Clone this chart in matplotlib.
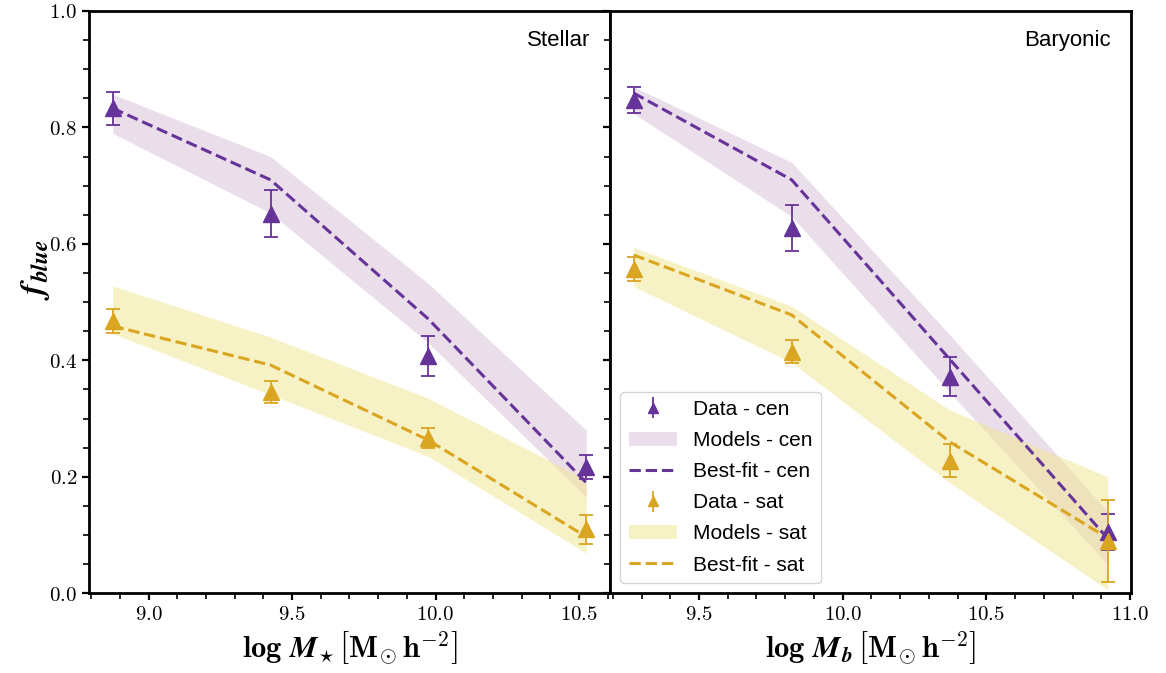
import numpy as np
import matplotlib
matplotlib.use("Agg")
import matplotlib.pyplot as plt
from matplotlib.ticker import MultipleLocator, FuncFormatter
from matplotlib.lines import Line2D
from matplotlib.patches import Patch

plt.rcParams['mathtext.fontset'] = 'cm'
plt.rcParams['font.family'] = ['Liberation Sans', 'DejaVu Sans']

# bin centres
x_stellar = [8.875, 9.425, 9.975, 10.525]
x_baryonic = [9.2725, 9.8225, 10.3725, 10.9225]

# stellar mass panel
st_data_cen = [0.833, 0.652, 0.408, 0.217]
st_err_cen = [0.028, 0.040, 0.034, 0.021]
st_data_sat = [0.468, 0.346, 0.267, 0.110]
st_err_sat = [0.021, 0.019, 0.017, 0.025]
st_best_cen = [0.833, 0.710, 0.471, 0.190]
st_best_sat = [0.459, 0.392, 0.263, 0.097]
st_mod_cen_lo = [0.790, 0.653, 0.430, 0.165]
st_mod_cen_hi = [0.857, 0.750, 0.532, 0.280]
st_mod_sat_lo = [0.446, 0.341, 0.235, 0.069]
st_mod_sat_hi = [0.528, 0.440, 0.335, 0.195]

# baryonic mass panel
bar_data_cen = [0.847, 0.627, 0.372, 0.106]
bar_err_cen = [0.023, 0.040, 0.033, 0.031]
bar_data_sat = [0.557, 0.415, 0.228, 0.090]
bar_err_sat = [0.021, 0.020, 0.029, 0.071]
bar_best_cen = [0.859, 0.710, 0.402, 0.094]
bar_best_sat = [0.581, 0.478, 0.260, 0.095]
bar_mod_cen_lo = [0.824, 0.647, 0.345, 0.050]
bar_mod_cen_hi = [0.870, 0.740, 0.444, 0.140]
bar_mod_sat_lo = [0.527, 0.396, 0.190, 0.006]
bar_mod_sat_hi = [0.594, 0.493, 0.315, 0.200]

c_cen = '#663399'
c_sat = 'goldenrod'
band_cen = 'thistle'
band_sat = 'khaki'

fig = plt.figure(figsize=(11.66, 6.73), dpi=100)
ax1 = fig.add_axes([0.0763, 0.1184, 0.4468, 0.8653])
ax2 = fig.add_axes([0.5231, 0.1184, 0.4468, 0.8653], sharey=ax1)

def draw_panel(ax, x, dc, ec, ds, es, bc, bs, clo, chi, slo, shi):
    ax.fill_between(x, clo, chi, color=band_cen, alpha=0.5, lw=0, zorder=1)
    ax.fill_between(x, slo, shi, color=band_sat, alpha=0.5, lw=0, zorder=1)
    ax.plot(x, bc, ls='--', color=c_cen, lw=2.2, zorder=3)
    ax.plot(x, bs, ls='--', color=c_sat, lw=2.2, zorder=3)
    ax.errorbar(x, dc, yerr=ec, fmt='^', color=c_cen, ms=12, capsize=5,
                elinewidth=1.3, capthick=1.3, zorder=4)
    ax.errorbar(x, ds, yerr=es, fmt='^', color=c_sat, ms=12, capsize=5,
                elinewidth=1.3, capthick=1.3, zorder=4)

draw_panel(ax1, x_stellar, st_data_cen, st_err_cen, st_data_sat, st_err_sat,
           st_best_cen, st_best_sat, st_mod_cen_lo, st_mod_cen_hi,
           st_mod_sat_lo, st_mod_sat_hi)
draw_panel(ax2, x_baryonic, bar_data_cen, bar_err_cen, bar_data_sat, bar_err_sat,
           bar_best_cen, bar_best_sat, bar_mod_cen_lo, bar_mod_cen_hi,
           bar_mod_sat_lo, bar_mod_sat_hi)

ax1.set_xlim(8.7925, 10.6075)
ax2.set_xlim(9.19, 11.003)
ax1.set_ylim(0, 1.0)

fmt = FuncFormatter(lambda v, p: r'$%.1f$' % v)
for ax in (ax1, ax2):
    ax.xaxis.set_major_locator(MultipleLocator(0.5))
    ax.xaxis.set_minor_locator(MultipleLocator(0.1))
    ax.yaxis.set_major_locator(MultipleLocator(0.2))
    ax.yaxis.set_minor_locator(MultipleLocator(0.05))
    ax.xaxis.set_major_formatter(fmt)
    ax.yaxis.set_major_formatter(fmt)
    ax.tick_params(which='major', direction='out', length=5, width=1.6,
                   labelsize=15)
    ax.tick_params(which='minor', direction='out', length=4, width=1.2)
    for s in ax.spines.values():
        s.set_linewidth(2)
plt.setp(ax2.get_yticklabels(), visible=False)

ax1.text(0.962, 0.95, 'Stellar', transform=ax1.transAxes, ha='right',
         va='center', fontsize=16)
ax2.text(0.962, 0.95, 'Baryonic', transform=ax2.transAxes, ha='right',
         va='center', fontsize=16)

ax1.set_ylabel(r'$\mathbfit{f}_{\mathbfit{blue}}$', fontsize=24)
ax1.yaxis.set_label_coords(-0.07, 0.555)
ax1.set_xlabel(r'$\mathbf{log}\ \mathbfit{M}_{\star}\,\left[\mathbf{M}_{\odot}\,\mathbf{h}^{\mathbf{-2}}\right]$',
               fontsize=22, labelpad=4)
ax2.set_xlabel(r'$\mathbf{log}\ \mathbfit{M}_{\mathbfit{b}}\,\left[\mathbf{M}_{\odot}\,\mathbf{h}^{\mathbf{-2}}\right]$',
               fontsize=22, labelpad=4)

eb_cen = ax2.errorbar([], [], yerr=[], fmt='^', color=c_cen, ms=7, capsize=5,
                      elinewidth=1.3)
eb_sat = ax2.errorbar([], [], yerr=[], fmt='^', color=c_sat, ms=7, capsize=5,
                      elinewidth=1.3)
handles = [
    eb_cen,
    Patch(facecolor=band_cen, alpha=0.5),
    Line2D([], [], ls='--', color=c_cen, lw=2.2),
    eb_sat,
    Patch(facecolor=band_sat, alpha=0.5),
    Line2D([], [], ls='--', color=c_sat, lw=2.2),
]
labels = ['Data - cen', 'Models - cen', 'Best-fit - cen',
          'Data - sat', 'Models - sat', 'Best-fit - sat']
ax2.legend(handles, labels, loc='lower left', fontsize=15, framealpha=0.8,
           borderaxespad=0.5, handlelength=2.3, labelspacing=0.58)

fig.savefig('out.png', dpi=100)
